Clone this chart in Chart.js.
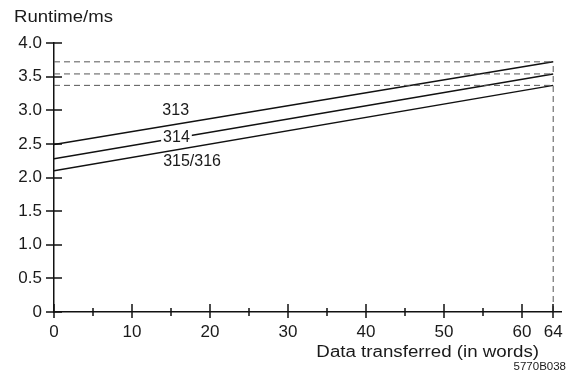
<!DOCTYPE html>
<html>
<head>
  <meta charset="utf-8">
  <title>Runtime vs data transferred</title>
  <script src="https://cdn.jsdelivr.net/npm/chart.js@4.4.0/dist/chart.umd.min.js"></script>
  <style>
    html, body { margin: 0; padding: 0; background: #fff; }
    #wrap { width: 578px; height: 374px; position: relative; }
  </style>
</head>
<body>
  <div id="wrap">
    <canvas id="runtimeChart"></canvas>
  </div>

  <script>
    // words transferred (line end points)
    const xValues = [0, 64];
    const runtime313 = [2.49, 3.72];
    const runtime314 = [2.28, 3.54];
    const runtime315 = [2.10, 3.37];

    // line labels and where they sit (data units)
    const lineLabels = ['313', '314', '315/316'];
    const labelX = [15.6, 15.7, 17.7];
    const labelY = [3.00, 2.60, 2.23];

    const xMajorTicks = [0, 10, 20, 30, 40, 50, 60, 64];
    const xMinorTicks = [5, 15, 25, 35, 45, 55];
    const yTicks = [0, 0.5, 1.0, 1.5, 2.0, 2.5, 3.0, 3.5, 4.0];

    const yTitle = 'Runtime/ms';
    const xTitle = 'Data transferred (in words)';
    const figId = '5770B038';

    const FONT = '"Liberation Sans", Arial, sans-serif';

    function toPoints(xs, ys) {
      return xs.map((x, i) => ({ x: x, y: ys[i] }));
    }

    function solid(data) {
      return { data: data, borderColor: '#111', borderWidth: 1.5, pointRadius: 0, showLine: true };
    }

    function dashed(data) {
      return { data: data, borderColor: '#555', borderWidth: 1, borderDash: [6, 4], pointRadius: 0, showLine: true };
    }

    const lastX = xValues[xValues.length - 1];

    const datasets = [
      dashed(toPoints(xValues, [runtime313[1], runtime313[1]])),
      dashed(toPoints(xValues, [runtime314[1], runtime314[1]])),
      dashed(toPoints(xValues, [runtime315[1], runtime315[1]])),
      dashed(toPoints([lastX, lastX], [0, runtime313[1]])),
      solid(toPoints(xValues, runtime313)),
      solid(toPoints(xValues, runtime314)),
      solid(toPoints(xValues, runtime315))
    ];

    function stretchedText(ctx, text, x, y, align, size, sx) {
      ctx.save();
      ctx.font = size + 'px ' + FONT;
      ctx.fillStyle = '#1a1a1a';
      ctx.textBaseline = 'alphabetic';
      const w = ctx.measureText(text).width * sx;
      const left = align === 'right' ? x - w : x;
      ctx.translate(left, y);
      ctx.scale(sx, 1);
      ctx.textAlign = 'left';
      ctx.fillText(text, 0, 0);
      ctx.restore();
    }

    const decor = {
      id: 'decor',
      afterDatasetsDraw(chart) {
        const ctx = chart.ctx;
        const xs = chart.scales.x;
        const ys = chart.scales.y;

        // labels on the lines
        ctx.save();
        ctx.font = '16px ' + FONT;
        ctx.textAlign = 'center';
        ctx.textBaseline = 'middle';
        lineLabels.forEach((t, i) => {
          const px = xs.getPixelForValue(labelX[i]);
          const py = ys.getPixelForValue(labelY[i]);
          if (t === '314') {
            const w = ctx.measureText(t).width;
            ctx.fillStyle = '#fff';
            ctx.fillRect(px - w / 2 - 2, py - 7, w + 4, 14);
          }
          ctx.fillStyle = '#1a1a1a';
          ctx.fillText(t, px, py);
        });
        ctx.restore();
      },
      afterDraw(chart) {
        const ctx = chart.ctx;
        const xs = chart.scales.x;
        const ys = chart.scales.y;
        const axisY = ys.getPixelForValue(0);
        const axisX = xs.getPixelForValue(0);

        ctx.save();
        ctx.strokeStyle = '#111';
        ctx.lineWidth = 1.5;
        ctx.beginPath();
        xMajorTicks.forEach(v => {
          const px = Math.round(xs.getPixelForValue(v));
          ctx.moveTo(px, axisY - 8);
          ctx.lineTo(px, axisY + 6);
        });
        xMinorTicks.forEach(v => {
          const px = Math.round(xs.getPixelForValue(v));
          ctx.moveTo(px, axisY - 4);
          ctx.lineTo(px, axisY + 4);
        });
        yTicks.forEach(v => {
          const py = Math.round(ys.getPixelForValue(v));
          ctx.moveTo(axisX - 8, py);
          ctx.lineTo(axisX + 8, py);
        });
        // little overhang of the y axis below zero
        ctx.moveTo(axisX, axisY);
        ctx.lineTo(axisX, axisY + 5);
        ctx.stroke();
        ctx.restore();

        stretchedText(ctx, yTitle, 14, 22, 'left', 16, 1.16);
        stretchedText(ctx, xTitle, 539, 357, 'right', 16, 1.17);
        stretchedText(ctx, figId, 566, 370, 'right', 10, 1.15);
      }
    };

    const config = {
      type: 'scatter',
      data: { datasets: datasets },
      options: {
        responsive: true,
        maintainAspectRatio: false,
        animation: false,
        layout: { padding: { top: 43, right: 17, left: 0, bottom: 0 } },
        plugins: {
          legend: { display: false },
          tooltip: { enabled: false },
          title: { display: false }
        },
        scales: {
          x: {
            type: 'linear',
            min: 0,
            max: 65,
            grid: { drawOnChartArea: false, drawTicks: false },
            border: { color: '#111', width: 1.5 },
            afterBuildTicks: scale => {
              scale.ticks = xMajorTicks.map(v => ({ value: v }));
            },
            afterFit: scale => { scale.height = 62; },
            ticks: {
              autoSkip: false,
              maxRotation: 0,
              padding: 10,
              color: '#1a1a1a',
              font: { family: FONT, size: 17 },
              callback: v => String(v)
            }
          },
          y: {
            min: 0,
            max: 4,
            grid: { drawOnChartArea: false, drawTicks: false },
            border: { color: '#111', width: 1.5 },
            afterBuildTicks: scale => {
              scale.ticks = yTicks.map(v => ({ value: v }));
            },
            afterFit: scale => { scale.width = 54; },
            ticks: {
              autoSkip: false,
              padding: 12,
              color: '#1a1a1a',
              font: { family: FONT, size: 17 },
              callback: v => v === 0 ? '0' : v.toFixed(1)
            }
          }
        }
      },
      plugins: [decor]
    };

    new Chart(document.getElementById('runtimeChart'), config);
  </script>
</body>
</html>
